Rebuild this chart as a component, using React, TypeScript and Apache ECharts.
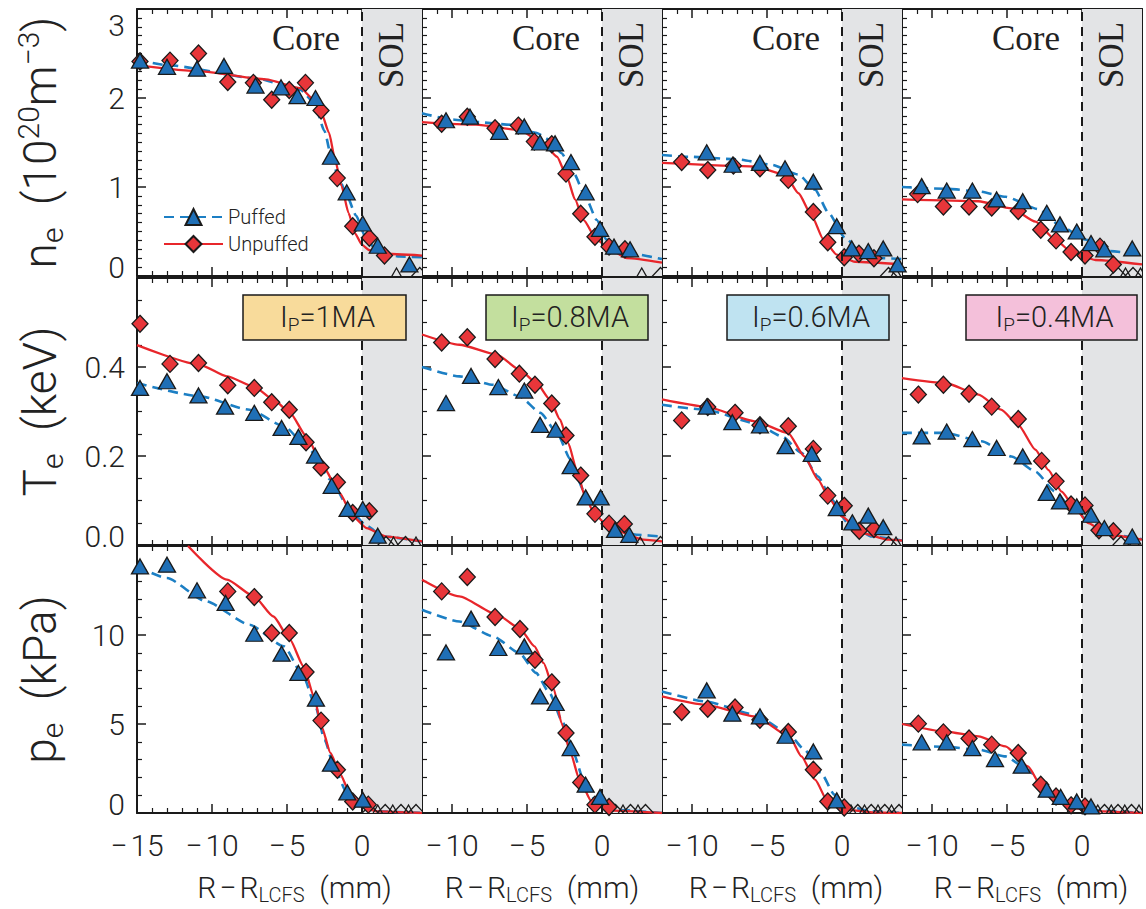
import React, { useEffect, useRef } from "react";
import * as echarts from "echarts";

// ---------- measured profiles: [R - R_LCFS (mm), value] ----------
// n_e (10^20 m^-3)
const neFitP1 = [[-15, 2.43], [-13, 2.37], [-7, 2.22], [-4.1, 2.09], [-3.2, 1.95], [-2.5, 1.63], [-2.0, 1.3], [-1.5, 1.08], [-1.0, 0.9], [-0.4, 0.68], [0.2, 0.45], [0.8, 0.32], [1.5, 0.25], [2.5, 0.22], [4, 0.21]];
const neFitU1 = [[-15, 2.37], [-10.8, 2.3], [-6.4, 2.21], [-4.1, 2.11], [-3.2, 1.98], [-2.7, 1.83], [-2.2, 1.61], [-1.8, 1.31], [-1.36, 1.01], [-0.9, 0.71], [-0.47, 0.48], [0, 0.35], [0.5, 0.29], [1.4, 0.25], [4, 0.23]];
const neP1 = [[-14.8, 2.42], [-13.0, 2.35], [-11.0, 2.33], [-9.2, 2.36], [-7.1, 2.14], [-5.4, 2.12], [-4.3, 2.02], [-3.1, 2.0], [-2.07, 1.34], [-1.02, 0.94], [0.05, 0.59], [1.05, 0.34], [3.16, 0.13]];
const neU1 = [[-14.8, 2.41], [-12.8, 2.42], [-10.9, 2.5], [-8.95, 2.18], [-7.24, 2.17], [-6.02, 1.98], [-4.85, 2.09], [-3.77, 2.17], [-2.73, 1.86], [-1.65, 1.1], [-0.62, 0.56], [0.49, 0.43], [1.5, 0.23]];

const neFitP08 = [[-12, 1.83], [-10.1, 1.76], [-8.4, 1.73], [-6.1, 1.7], [-4.4, 1.61], [-3.5, 1.53], [-2.7, 1.38], [-1.9, 1.16], [-1.1, 0.89], [-0.35, 0.63], [0.3, 0.41], [1.65, 0.26], [4, 0.19]];
const neFitU08 = [[-12, 1.73], [-8.4, 1.7], [-5.5, 1.64], [-3.9, 1.49], [-3.0, 1.34], [-2.35, 1.12], [-1.8, 0.86], [-1.24, 0.63], [-0.35, 0.41], [0.53, 0.3], [1.65, 0.2], [4, 0.15]];
const neP08 = [[-10.4, 1.75], [-8.8, 1.79], [-6.85, 1.62], [-5.18, 1.68], [-4.13, 1.5], [-3.13, 1.49], [-2.07, 1.28], [-1.09, 0.94], [-0.13, 0.53], [0.8, 0.33], [1.87, 0.3]];
const neU08 = [[-10.69, 1.71], [-8.98, 1.79], [-7.13, 1.66], [-5.58, 1.69], [-4.51, 1.51], [-3.35, 1.48], [-2.4, 1.15], [-1.42, 0.7], [-0.47, 0.44], [0.47, 0.33], [1.53, 0.3]];

const neFitP06 = [[-12, 1.36], [-10.2, 1.34], [-6.9, 1.31], [-4.7, 1.25], [-2.9, 1.14], [-1.8, 0.97], [-0.9, 0.71], [0.2, 0.43], [1.3, 0.26], [2.65, 0.2], [4, 0.19]];
const neFitU06 = [[-12, 1.27], [-5.8, 1.23], [-3.8, 1.14], [-2.9, 0.93], [-2.0, 0.67], [-1.24, 0.41], [-0.35, 0.24], [0.87, 0.16], [4, 0.13]];
const neP06 = [[-9.02, 1.39], [-7.29, 1.25], [-5.47, 1.27], [-3.8, 1.21], [-1.91, 1.06], [-0.35, 0.56], [0.65, 0.31], [1.75, 0.28], [2.75, 0.31], [3.71, 0.13]];
const neU06 = [[-10.69, 1.28], [-8.95, 1.19], [-7.24, 1.24], [-5.47, 1.21], [-3.58, 1.08], [-1.91, 0.72], [-0.95, 0.38], [0.15, 0.21], [1.13, 0.25], [2.13, 0.2]];

const neFitP04 = [[-12, 1.0], [-9.0, 0.98], [-6.9, 0.95], [-5.1, 0.89], [-2.9, 0.75], [-1.4, 0.56], [0.2, 0.41], [1.75, 0.28], [4, 0.24]];
const neFitU04 = [[-12, 0.86], [-6.9, 0.84], [-4.7, 0.76], [-3.1, 0.61], [-1.8, 0.41], [-0.7, 0.27], [0.9, 0.18], [4, 0.13]];
const neP04 = [[-10.69, 1.01], [-9.02, 0.96], [-7.31, 0.96], [-5.69, 0.86], [-3.95, 0.84], [-2.35, 0.71], [-1.47, 0.58], [-0.35, 0.5], [0.6, 0.37], [1.49, 0.3], [3.35, 0.31]];
const neU04 = [[-10.96, 0.92], [-9.24, 0.78], [-7.53, 0.78], [-6.02, 0.77], [-4.25, 0.73], [-2.75, 0.52], [-1.73, 0.4], [-0.73, 0.27], [0.2, 0.23], [1.2, 0.33], [2.09, 0.13]];

// T_e (keV)
const teFitP1 = [[-15, 0.364], [-10.8, 0.334], [-7.5, 0.304], [-5.2, 0.267], [-3.5, 0.214], [-2.1, 0.147], [-0.8, 0.079], [0.3, 0.043], [1.4, 0.019], [4, 0.008]];
const teFitU1 = [[-15, 0.449], [-10.8, 0.405], [-9.0, 0.379], [-7.2, 0.356], [-5.9, 0.327], [-4.8, 0.297], [-3.7, 0.244], [-2.6, 0.177], [-1.5, 0.117], [-0.6, 0.064], [0.3, 0.038], [1.6, 0.019], [4, 0.008]];
const teP1 = [[-14.8, 0.353], [-13.0, 0.368], [-10.9, 0.336], [-9.13, 0.311], [-7.18, 0.297], [-5.36, 0.263], [-4.24, 0.243], [-3.13, 0.201], [-2.02, 0.133], [-0.96, 0.081], [0.05, 0.081], [1.05, 0.021]];
const teU1 = [[-14.8, 0.497], [-12.8, 0.407], [-10.9, 0.409], [-8.95, 0.359], [-7.18, 0.353], [-6.02, 0.321], [-4.85, 0.304], [-3.73, 0.231], [-2.73, 0.174], [-1.64, 0.141], [-0.62, 0.072], [0.49, 0.076]];

const teFitP08 = [[-12, 0.4], [-9.5, 0.379], [-7.25, 0.36], [-5.5, 0.334], [-4.1, 0.297], [-3.0, 0.252], [-2.1, 0.192], [-1.24, 0.124], [-0.35, 0.072], [0.53, 0.042], [2.3, 0.023], [4, 0.019]];
const teFitU08 = [[-12, 0.473], [-9.5, 0.45], [-7.0, 0.428], [-5.5, 0.394], [-4.36, 0.364], [-3.47, 0.327], [-2.8, 0.282], [-2.25, 0.229], [-1.69, 0.169], [-1.13, 0.109], [-0.47, 0.068], [0.53, 0.038], [2.75, 0.012], [4, 0.008]];
const teP08 = [[-10.4, 0.319], [-8.73, 0.38], [-6.91, 0.355], [-5.18, 0.347], [-4.13, 0.27], [-3.09, 0.259], [-2.09, 0.177], [-1.09, 0.107], [-0.09, 0.107], [0.87, 0.034], [1.82, 0.023]];
const teU08 = [[-10.69, 0.455], [-8.98, 0.467], [-7.13, 0.418], [-5.51, 0.385], [-4.47, 0.36], [-3.35, 0.318], [-2.4, 0.246], [-1.42, 0.156], [-0.47, 0.07], [0.47, 0.048], [1.49, 0.047]];

const teFitP06 = [[-12, 0.315], [-9.1, 0.304], [-5.8, 0.274], [-4.0, 0.244], [-2.7, 0.207], [-1.6, 0.154], [-0.7, 0.102], [0.4, 0.049], [2.0, 0.019], [4, 0.01]];
const teFitU06 = [[-12, 0.327], [-9.1, 0.311], [-5.8, 0.278], [-3.6, 0.252], [-2.5, 0.199], [-1.6, 0.147], [-0.8, 0.102], [0, 0.064], [1.3, 0.027], [3.1, 0.012], [4, 0.01]];
const teP06 = [[-9.02, 0.311], [-7.31, 0.276], [-5.47, 0.269], [-3.76, 0.222], [-2.02, 0.205], [-0.35, 0.083], [0.69, 0.051], [1.75, 0.066], [2.75, 0.04]];
const teU06 = [[-10.69, 0.28], [-8.95, 0.31], [-7.13, 0.297], [-5.47, 0.269], [-3.58, 0.267], [-1.91, 0.216], [-0.95, 0.111], [0.15, 0.088], [1.15, 0.032], [2.13, 0.036]];

const teFitP04 = [[-12, 0.252], [-9.1, 0.252], [-6.7, 0.233], [-4.7, 0.199], [-3.1, 0.165], [-1.8, 0.12], [-0.7, 0.083], [0.65, 0.049], [2.0, 0.023], [4, 0.013]];
const teFitU04 = [[-12, 0.375], [-9.1, 0.364], [-6.9, 0.338], [-5.4, 0.304], [-4.25, 0.27], [-3.1, 0.214], [-2.25, 0.169], [-1.36, 0.12], [-0.47, 0.083], [0.42, 0.049], [1.75, 0.023], [4, 0.012]];
const teP04 = [[-10.69, 0.244], [-9.02, 0.255], [-7.31, 0.238], [-5.69, 0.218], [-3.95, 0.199], [-2.35, 0.117], [-1.47, 0.098], [-0.35, 0.087], [0.6, 0.068], [1.49, 0.038], [3.35, 0.019]];
const teU04 = [[-10.91, 0.338], [-9.24, 0.36], [-7.53, 0.34], [-6.02, 0.311], [-4.25, 0.283], [-2.69, 0.189], [-1.73, 0.143], [-0.73, 0.091], [0.2, 0.089], [1.13, 0.033], [2.09, 0.031]];

// p_e (kPa)
const peFitP1 = [[-15, 13.85], [-13, 13.2], [-10.4, 11.89], [-7.5, 10.58], [-5.2, 9.36], [-3.9, 7.67], [-3.1, 5.99], [-2.5, 4.12], [-1.8, 2.43], [-1.0, 1.12], [-0.1, 0.37], [1.0, 0.09], [4, 0]];
const peFitU1 = [[-11.6, 15.0], [-9.0, 13.11], [-7.2, 12.17], [-5.9, 11.04], [-4.8, 9.74], [-3.9, 8.24], [-3.2, 6.55], [-2.7, 4.87], [-2.1, 3.37], [-1.5, 2.25], [-0.8, 1.12], [0, 0.37], [1.0, 0.09], [4, 0]];
const peP1 = [[-14.8, 13.85], [-13.0, 13.95], [-11.0, 12.51], [-9.09, 11.8], [-7.18, 10.07], [-5.36, 8.95], [-4.24, 7.87], [-3.07, 6.42], [-2.07, 2.77], [-0.98, 1.16], [0.05, 0.75]];
const peU1 = [[-8.95, 12.45], [-7.18, 12.13], [-6.02, 10.11], [-4.85, 10.11], [-3.73, 7.92], [-2.73, 5.19], [-1.64, 2.43], [-0.62, 0.65], [0.42, 0.47]];

const peFitP08 = [[-12, 11.42], [-9.5, 10.76], [-7.25, 9.92], [-5.5, 8.99], [-4.4, 7.87], [-3.5, 6.74], [-2.6, 5.06], [-1.9, 3.37], [-1.24, 1.87], [-0.47, 0.75], [0.53, 0.19], [4, 0]];
const peFitU08 = [[-12, 13.11], [-9.5, 12.17], [-7.0, 11.14], [-5.5, 10.39], [-4.5, 9.36], [-3.9, 8.43], [-3.2, 6.93], [-2.7, 5.06], [-2.1, 3.37], [-1.5, 1.87], [-0.7, 0.65], [0.3, 0.15], [4, 0]];
const peP08 = [[-10.4, 9.02], [-8.73, 10.92], [-6.91, 9.27], [-5.18, 9.36], [-4.13, 6.55], [-3.09, 6.18], [-2.09, 3.65], [-1.09, 1.59], [-0.13, 0.9]];
const peU08 = [[-10.69, 12.45], [-8.98, 13.26], [-7.13, 11.01], [-5.47, 10.34], [-4.47, 8.61], [-3.35, 7.34], [-2.4, 4.49], [-1.42, 1.72], [-0.47, 0.47], [0.47, 0.34]];

const peFitP06 = [[-12, 6.83], [-9.1, 6.27], [-5.8, 5.52], [-3.6, 4.49], [-2.5, 3.56], [-1.4, 2.25], [-0.5, 1.03], [0.4, 0.37], [2.0, 0.09], [4, 0]];
const peFitU06 = [[-12, 6.55], [-9.1, 6.08], [-5.8, 5.43], [-3.5, 4.3], [-2.7, 3.18], [-1.8, 1.87], [-0.9, 0.56], [0.2, 0.19], [2.0, 0.04], [4, 0]];
const peP06 = [[-9.02, 6.89], [-7.31, 5.58], [-5.47, 5.43], [-3.76, 4.34], [-1.91, 3.46], [-0.35, 0.71]];
const peU06 = [[-10.69, 5.67], [-8.95, 5.86], [-7.13, 5.93], [-5.47, 5.24], [-3.58, 4.55], [-1.91, 2.43], [-0.95, 0.65], [0.15, 0.31]];

const peFitP04 = [[-12, 3.84], [-9.1, 3.71], [-6.9, 3.56], [-5.1, 3.18], [-3.6, 2.43], [-2.25, 1.12], [-0.9, 0.56], [0.87, 0.15], [4, 0]];
const peFitU04 = [[-12, 5.0], [-9.1, 4.58], [-6.9, 4.3], [-5.1, 3.74], [-3.6, 2.62], [-2.7, 1.49], [-1.6, 0.75], [-0.5, 0.28], [1.3, 0.09], [4, 0]];
const peP04 = [[-10.69, 3.97], [-9.02, 3.97], [-7.31, 3.65], [-5.8, 3.03], [-4.02, 2.66], [-2.35, 1.31], [-1.42, 0.9], [-0.35, 0.65], [0.6, 0.37]];
const peU04 = [[-10.91, 5.02], [-9.24, 4.53], [-7.53, 4.19], [-6.02, 3.84], [-4.25, 3.37], [-2.75, 1.59], [-1.73, 0.93], [-0.73, 0.43], [0.2, 0.37]];

// SOL measurements sitting on zero: [x, value, kind] with kind 0 = puffed, 1 = unpuffed
const neZero1 = [[2.3, 0, 0], [3.85, 0, 1]];
const neZero08 = [[2.65, 0, 0], [3.9, 0, 1]];
const neZero06 = [[3.1, 0, 1], [3.6, 0, 0]];
const neZero04 = [[2.4, 0, 1], [2.9, 0, 0], [3.4, 0, 1], [3.9, 0, 0]];
const teZero1 = [[1.6, 0, 1], [2.1, 0, 0], [2.9, 0, 1], [3.6, 0, 0]];
const teZero08 = [[2.55, 0, 0], [3.9, 0, 1]];
const teZero06 = [[3.1, 0, 1], [3.6, 0, 0]];
const teZero04 = [[2.6, 0, 1], [3.5, 0, 0]];
const peZero1 = [[0.55, 0, 1], [1.05, 0, 0], [1.55, 0, 1], [2.05, 0, 0], [2.6, 0, 1], [3.1, 0, 0], [3.6, 0, 1]];
const peZero08 = [[0.9, 0, 1], [1.4, 0, 0], [1.9, 0, 1], [2.4, 0, 0], [2.9, 0, 1]];
const peZero06 = [[0.6, 0, 0], [1.05, 0, 1], [1.5, 0, 0], [1.95, 0, 1], [2.4, 0, 0], [2.85, 0, 1], [3.3, 0, 0], [3.8, 0, 1]];
const peZero04 = [[0.6, 0, 1], [1.05, 0, 0], [1.5, 0, 1], [1.95, 0, 0], [2.4, 0, 1], [2.85, 0, 0], [3.3, 0, 1], [3.8, 0, 0]];

// ---------- labels ----------
const plasmaCurrents = ["1MA", "0.8MA", "0.6MA", "0.4MA"];
const xMinByColumn = [-15, -12, -12, -12];
const X_MAX = 4;
const SOL_START = 0;

// per panel: [puffed fit, unpuffed fit, puffed points, unpuffed points, points at zero]
const panels = [
  [[neFitP1, neFitU1, neP1, neU1, neZero1], [neFitP08, neFitU08, neP08, neU08, neZero08], [neFitP06, neFitU06, neP06, neU06, neZero06], [neFitP04, neFitU04, neP04, neU04, neZero04]],
  [[teFitP1, teFitU1, teP1, teU1, teZero1], [teFitP08, teFitU08, teP08, teU08, teZero08], [teFitP06, teFitU06, teP06, teU06, teZero06], [teFitP04, teFitU04, teP04, teU04, teZero04]],
  [[peFitP1, peFitU1, peP1, peU1, peZero1], [peFitP08, peFitU08, peP08, peU08, peZero08], [peFitP06, peFitU06, peP06, peU06, peZero06], [peFitP04, peFitU04, peP04, peU04, peZero04]],
];

// ---------- styling ----------
const SANS = "Roboto, 'Liberation Sans', Arial, sans-serif";
const SERIF = "'Liberation Serif', 'Times New Roman', serif";
const INK = "#1a1a1a";
const TEXT = "#222";
const BLUE_LINE = "#1c7fc4";
const BLUE_FILL = "#1f6fb6";
const RED_LINE = "#e8262b";
const RED_FILL = "#e8363a";
const SOL_FILL = "#e3e4e6";
const BOX_FILLS = ["#f8db9b", "#c3df9e", "#bfe3f1", "#f4c0da"];
const BOX_GEOM = [[243, 163], [486, 162], [727, 162], [966, 171]];

const COL_LEFT = [137, 422, 662, 902];
const COL_WIDTH = [285, 240, 240, 240];
const ROW_TOP = [9, 278, 546];
const ROW_HEIGHT = 267;

const ROWS = [
  {
    max: 3, interval: 1, minor: 10,
    fmt: (v: number) => (v === 0 ? "{lo|0}" : v >= 2.99 ? "{hi|3}" : `{n|${v}}`),
    title: "{a|n}{s|e}{a|  (10}{p|20}{a|m}{p|\u22123}{a|)}",
  },
  {
    max: 0.6, interval: 0.2, minor: 4,
    fmt: (v: number) => (v === 0 ? "{lo|0.0}" : v > 0.55 ? "" : `{n|${v.toFixed(1)}}`),
    title: "{a|T}{s|e}{a|  (keV)}",
  },
  {
    max: 15, interval: 5, minor: 5,
    fmt: (v: number) => (v === 0 ? "{lo|0}" : v >= 15 ? "" : `{n|${v}}`),
    title: "{a|p}{s|e}{a|  (kPa)}",
  },
];

const X_TITLE_SHIFT = [15, 0, 4, 9];

const axisLine = { show: true, onZero: false, lineStyle: { color: INK, width: 2 } };
const majorTick = { show: true, inside: true, length: 9, lineStyle: { color: INK, width: 1.5 } };
const minorTick = (n: number) => ({ show: true, splitNumber: n, length: 5, lineStyle: { color: INK, width: 1.2 } });

const tickFont = { fontFamily: SANS, fontWeight: 300, fontSize: 30, color: TEXT };

// hollow marker outline for SOL points sitting on the axis (clipped by the plot frame)
function zeroMarker(params: any, api: any) {
  const p = api.coord([api.value(0), api.value(1)]);
  const kind = api.value(2);
  const pts =
    kind === 0
      ? [[p[0], p[1] - 8], [p[0] + 8.5, p[1] + 7], [p[0] - 8.5, p[1] + 7]]
      : [[p[0], p[1] - 8.5], [p[0] + 8, p[1]], [p[0], p[1] + 8.5], [p[0] - 8, p[1]]];
  return { type: "polygon", shape: { points: pts }, style: { fill: "none", stroke: INK, lineWidth: 1.3 } };
}

function buildOption() {
  const grid: any[] = [];
  const xAxis: any[] = [];
  const yAxis: any[] = [];
  const series: any[] = [];
  const graphic: any[] = [];

  for (let r = 0; r < 3; r++) {
    for (let c = 0; c < 4; c++) {
      const g = r * 4 + c;
      const row = ROWS[r];
      grid.push({ left: COL_LEFT[c], top: ROW_TOP[r], width: COL_WIDTH[c], height: ROW_HEIGHT });

      const xBase = {
        gridIndex: g, type: "value", min: xMinByColumn[c], max: X_MAX,
        splitNumber: 3, minInterval: 5, maxInterval: 5, silent: true,
        axisLine, axisTick: majorTick, minorTick: minorTick(5), splitLine: { show: false },
      };
      const bottom = r === 2;
      xAxis.push({
        ...xBase, position: "bottom",
        axisLabel: bottom
          ? {
              show: true, margin: 17, ...tickFont,
              formatter: (v: number) =>
                Math.abs(v % 5) < 1e-9 && v <= 0 ? (v < 0 ? "\u2212\u200a" + Math.abs(v) : "0") : "",
            }
          : { show: false },
        name: bottom ? "{a|R\u200a\u2212\u200aR}{s|LCFS}{a|  (mm)}" : "",
        nameLocation: "middle",
        nameGap: 56,
        nameTextStyle: {
          padding: [0, 0, 0, X_TITLE_SHIFT[c] * 2],
          rich: {
            a: { fontFamily: SANS, fontWeight: 300, fontSize: 30, lineHeight: 36, color: TEXT },
            s: { fontFamily: SANS, fontWeight: 300, fontSize: 20, lineHeight: 14, verticalAlign: "bottom", color: TEXT },
          },
        },
      });
      xAxis.push({ ...xBase, position: "top", axisLabel: { show: false } });

      const yBase = {
        gridIndex: g, type: "value", min: 0, max: row.max, interval: row.interval, silent: true,
        axisLine, axisTick: majorTick, minorTick: minorTick(row.minor), splitLine: { show: false },
      };
      const first = c === 0;
      yAxis.push({
        ...yBase, position: "left",
        axisLabel: first
          ? {
              show: true, margin: 12, ...tickFont, formatter: row.fmt,
              rich: {
                n: { ...tickFont },
                lo: { ...tickFont, padding: [0, 0, 18, 0] },
                hi: { ...tickFont, padding: [32, 0, 0, 0] },
              },
            }
          : { show: false },
        name: first ? row.title : "",
        nameLocation: "middle",
        nameRotate: 90,
        nameGap: 70,
        nameTextStyle: {
          rich: {
            a: { fontFamily: SANS, fontWeight: 300, fontSize: 46, lineHeight: 54, color: TEXT },
            s: { fontFamily: SANS, fontWeight: 300, fontSize: 30, lineHeight: 22, verticalAlign: "bottom", color: TEXT },
            p: { fontFamily: SANS, fontWeight: 300, fontSize: 30, lineHeight: 22, verticalAlign: "top", color: TEXT },
          },
        },
      });
      yAxis.push({ ...yBase, position: "right", axisLabel: { show: false } });

      const [fitP, fitU, ptsP, ptsU, ptsZero] = panels[r][c];
      const axes = { xAxisIndex: 2 * g, yAxisIndex: 2 * g };

      // scrape-off-layer band and separatrix
      series.push({
        type: "line", ...axes, data: [], silent: true, z: 1,
        markArea: {
          silent: true, itemStyle: { color: SOL_FILL },
          data: [[{ xAxis: SOL_START }, { xAxis: X_MAX }]],
        },
        markLine: {
          silent: true, symbol: "none", label: { show: false },
          lineStyle: { color: INK, type: [9, 6], width: 2 },
          data: [{ xAxis: SOL_START }],
        },
      });
      series.push({
        name: "Puffed", type: "line", ...axes, data: fitP, silent: true, z: 3,
        showSymbol: false, symbol: "triangle", symbolSize: [17, 15],
        smooth: 0.2, smoothMonotone: "x",
        lineStyle: { color: BLUE_LINE, width: 2.6, type: [10, 6] },
        itemStyle: { color: BLUE_FILL, borderColor: INK, borderWidth: 1.3 },
      });
      series.push({
        name: "Unpuffed", type: "line", ...axes, data: fitU, silent: true, z: 3,
        showSymbol: false, symbol: "diamond", symbolSize: [16, 17],
        smooth: 0.2, smoothMonotone: "x",
        lineStyle: { color: RED_LINE, width: 2.3 },
        itemStyle: { color: RED_FILL, borderColor: INK, borderWidth: 1.3 },
      });
      series.push({
        name: "SOL points", type: "custom", ...axes, data: ptsZero, silent: true, z: 4,
        clip: true, encode: { x: 0, y: 1 }, renderItem: zeroMarker,
      });
      series.push({
        name: "Unpuffed points", type: "scatter", ...axes, data: ptsU, silent: true, z: 4,
        symbol: "diamond", symbolSize: [16, 17],
        itemStyle: { color: RED_FILL, borderColor: INK, borderWidth: 1.3, opacity: 1 },
      });
      series.push({
        name: "Puffed points", type: "scatter", ...axes, data: ptsP, silent: true, z: 5,
        symbol: "triangle", symbolSize: [17, 15],
        itemStyle: { color: BLUE_FILL, borderColor: INK, borderWidth: 1.3, opacity: 1 },
      });
    }
  }

  // region annotations
  for (let c = 0; c < 4; c++) {
    const span = X_MAX - xMinByColumn[c];
    const x0 = COL_LEFT[c] + (COL_WIDTH[c] * (SOL_START - xMinByColumn[c])) / span;
    graphic.push({
      type: "text", x: x0 - 22, y: 38, z: 20, silent: true,
      style: { text: "Core", fontFamily: SERIF, fontSize: 35, fill: TEXT, align: "right", verticalAlign: "middle" },
    });
    graphic.push({
      type: "text", x: x0 + 29, y: 55, z: 20, rotation: Math.PI / 2, silent: true,
      style: { text: "SOL", fontFamily: SERIF, fontSize: 35, fill: TEXT, align: "center", verticalAlign: "middle" },
    });
    const [bx, bw] = BOX_GEOM[c];
    graphic.push({
      type: "rect", z: 20, silent: true,
      shape: { x: bx, y: 295, width: bw, height: 45 },
      style: { fill: BOX_FILLS[c], stroke: INK, lineWidth: 1.5 },
    });
    graphic.push({
      type: "text", x: bx + bw / 2 + 3, y: 317, z: 21, silent: true,
      style: {
        text: `{a|I}{s|P}{a|=${plasmaCurrents[c]}}`,
        align: "center", verticalAlign: "middle",
        rich: {
          a: { fontFamily: SANS, fontWeight: 300, fontSize: 29, lineHeight: 34, fill: TEXT },
          s: { fontFamily: SANS, fontWeight: 300, fontSize: 19, lineHeight: 14, verticalAlign: "bottom", fill: TEXT },
        },
      },
    });
  }

  return {
    animation: false,
    backgroundColor: "#ffffff",
    textStyle: { fontFamily: SANS },
    legend: {
      data: ["Puffed", "Unpuffed"],
      orient: "vertical", left: 158, top: 202,
      itemWidth: 59, itemHeight: 20, itemGap: 7,
      selectedMode: false,
      textStyle: { fontFamily: SANS, fontWeight: 300, fontSize: 20, lineHeight: 20, color: TEXT },
    },
    grid, xAxis, yAxis, series, graphic,
  };
}

export default function App() {
  const ref = useRef<HTMLDivElement>(null);
  useEffect(() => {
    if (!ref.current) return;
    const chart = echarts.init(ref.current, null, { renderer: "svg" });
    chart.setOption(buildOption() as any);
    return () => chart.dispose();
  }, []);
  return (
    <div
      ref={ref}
      style={{ position: "absolute", left: 0, top: 0, width: 1146, height: 909, background: "#fff" }}
    />
  );
}
